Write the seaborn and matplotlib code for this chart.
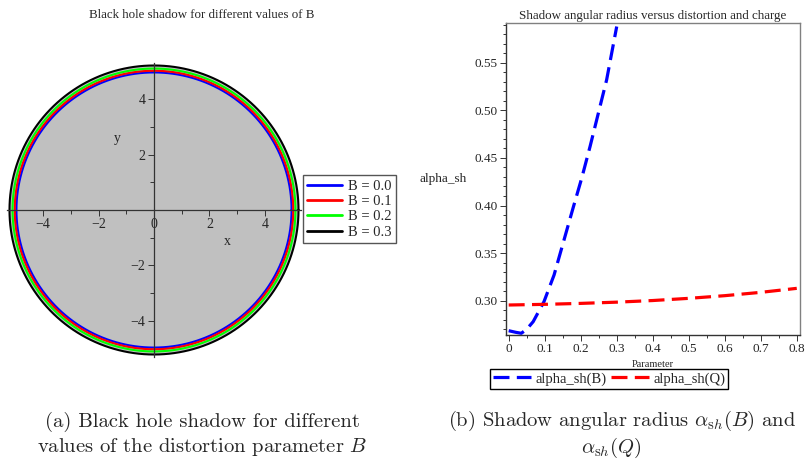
import numpy as np
import pandas as pd
import seaborn as sns
import matplotlib.pyplot as plt
from matplotlib.ticker import MultipleLocator, FixedLocator

# --- veriler ---
# sol panel: golge yaricaplari (B degerlerine gore)
b_labels = ["B = 0.0", "B = 0.1", "B = 0.2", "B = 0.3"]
b_radius = [4.96, 5.02, 5.10, 5.21]
b_colors = ["#0000ff", "#ff0000", "#00ff00", "#000000"]

# sag panel: alpha_sh(B) ve alpha_sh(Q)
param_B = [0.0, 0.02, 0.035, 0.05, 0.068, 0.098, 0.126, 0.156, 0.18,
           0.203, 0.226, 0.249, 0.272, 0.30]
alpha_B = [0.2685, 0.2668, 0.2658, 0.2700, 0.2780, 0.2990, 0.3270, 0.3670,
           0.3990, 0.4290, 0.4620, 0.4970, 0.5320, 0.5880]
param_Q = [0.0, 0.1, 0.2, 0.3, 0.4, 0.5, 0.6, 0.7, 0.8]
alpha_Q = [0.2955, 0.2962, 0.2972, 0.2985, 0.3002, 0.3025, 0.3053, 0.3088, 0.3130]

x_ticks = [0.0, 0.1, 0.2, 0.3, 0.4, 0.5, 0.6, 0.7, 0.8]
x_tick_labels = ["0", "0.1", "0.2", "0.3", "0.4", "0.5", "0.6", "0.7", "0.8"]
y_ticks = [0.30, 0.35, 0.40, 0.45, 0.50, 0.55]
y_tick_labels = ["0.30", "0.35", "0.40", "0.45", "0.50", "0.55"]

sns.set_style("white")
plt.rcParams['font.family'] = ['Liberation Serif', 'DejaVu Serif']
plt.rcParams['mathtext.fontset'] = 'cm'

fig = plt.figure(figsize=(8.06, 4.59), dpi=100)
W, H = 806, 459

def box(x0, y0, x1, y1):
    # piksel -> figur orani
    return [x0 / W, 1 - y1 / H, (x1 - x0) / W, (y1 - y0) / H]

# ---------------- sol panel ----------------
ax1 = fig.add_axes(box(7, 63, 301, 357))
theta = np.linspace(0, 2 * np.pi, 361)
rows = []
for lab, r in zip(b_labels, b_radius):
    for t in theta:
        rows.append((lab, r * np.cos(t), r * np.sin(t)))
circ = pd.DataFrame(rows, columns=["B", "x", "y"])

rmax = max(b_radius)
ax1.fill(rmax * np.cos(theta), rmax * np.sin(theta), color="#c0c0c0", zorder=0.5, lw=0)
sns.lineplot(data=circ, x="x", y="y", hue="B", sort=False, estimator=None,
             palette=dict(zip(b_labels, b_colors)), lw=1.5, ax=ax1)

ax1.set_xlim(-5.3, 5.3)
ax1.set_ylim(-5.3, 5.3)
ax1.set_aspect("equal")
for s in ["top", "right"]:
    ax1.spines[s].set_visible(False)
for s in ["left", "bottom"]:
    ax1.spines[s].set_position("zero")
    ax1.spines[s].set_color("#333333")
    ax1.spines[s].set_linewidth(0.9)
ax1.xaxis.set_major_locator(FixedLocator([-4, -2, 0, 2, 4]))
ax1.yaxis.set_major_locator(FixedLocator([-4, -2, 2, 4]))
ax1.xaxis.set_minor_locator(FixedLocator([-5, -3, -1, 1, 3, 5]))
ax1.yaxis.set_minor_locator(FixedLocator([-5, -3, -1, 1, 3, 5]))
ax1.set_xticklabels(["\u22124", "\u22122", "0", "2", "4"])
ax1.set_yticklabels(["\u22124", "\u22122", "2", "4"])
ax1.tick_params(which="both", direction="out", length=4, width=0.7,
                color="#333333", labelsize=10, pad=2,
                bottom=True, left=True)
ax1.tick_params(which="minor", length=3)
ax1.set_xlabel("")
ax1.set_ylabel("")
ax1.text(0.749, 0.394, "x", transform=ax1.transAxes, fontsize=10,
         ha="center", va="center")
ax1.text(0.374, 0.742, "y", transform=ax1.transAxes, fontsize=10,
         ha="center", va="center")
fig.text(202 / W, 1 - 15 / H, "Black hole shadow for different values of B",
         ha="center", va="center", fontsize=9.3)
leg1 = ax1.legend(loc="center left", bbox_to_anchor=(1.007, 0.503),
                  fontsize=10.5, frameon=True, fancybox=False, framealpha=1,
                  edgecolor="#555555", handlelength=2.4, borderpad=0.3,
                  labelspacing=0.15, handletextpad=0.4, borderaxespad=0)
leg1.get_frame().set_linewidth(1.0)
for ln in leg1.get_lines():
    ln.set_linewidth(2)

# ---------------- sag panel ----------------
ax2 = fig.add_axes(box(505.7, 23, 800, 335))
curves = pd.concat([
    pd.DataFrame({"Parameter": param_B, "alpha_sh": alpha_B, "curve": "alpha_sh(B)"}),
    pd.DataFrame({"Parameter": param_Q, "alpha_sh": alpha_Q, "curve": "alpha_sh(Q)"}),
])
sns.lineplot(data=curves, x="Parameter", y="alpha_sh", hue="curve", style="curve",
             palette={"alpha_sh(B)": "#0000ff", "alpha_sh(Q)": "#ff0000"},
             dashes={"alpha_sh(B)": (5, 2.3), "alpha_sh(Q)": (5, 2.3)},
             lw=2.3, sort=False, estimator=None, ax=ax2)
ax2.set_xlim(-0.0083, 0.809)
ax2.set_ylim(0.264, 0.5917)
ax2.xaxis.set_major_locator(FixedLocator(x_ticks))
ax2.xaxis.set_minor_locator(FixedLocator(np.arange(0.05, 0.8, 0.1)))
ax2.yaxis.set_major_locator(FixedLocator(y_ticks))
ax2.yaxis.set_minor_locator(MultipleLocator(0.01))
ax2.set_xticklabels(x_tick_labels)
ax2.set_yticklabels(y_tick_labels)
ax2.tick_params(which="both", direction="out", length=4, width=0.7,
                color="#333333", labelsize=9.5, pad=2, bottom=True, left=True)
ax2.tick_params(which="minor", length=2.5)
for s in ["left", "bottom"]:
    ax2.spines[s].set_color("#333333")
    ax2.spines[s].set_linewidth(1.0)
for s in ["top", "right"]:
    ax2.spines[s].set_color("#808080")
    ax2.spines[s].set_linewidth(1.0)
ax2.set_title("Shadow angular radius versus distortion and charge",
              fontsize=9.4, pad=3)
ax2.set_ylabel("alpha_sh", rotation=0, fontsize=9.5, ha="center", va="center")
ax2.yaxis.set_label_coords(-0.213, 0.5)
ax2.set_xlabel("Parameter", fontsize=7.5)
ax2.xaxis.set_label_coords(0.5, -0.093)
ax2.xaxis.label.set_va("center")
leg2 = ax2.legend(loc="center", bbox_to_anchor=(0.351, -0.141), ncol=2,
                  fontsize=10.5, frameon=True, fancybox=False, framealpha=1,
                  edgecolor="#000000", handlelength=2.6, borderpad=0.2,
                  columnspacing=0.3, handletextpad=0.3, borderaxespad=0)
leg2.get_frame().set_linewidth(1.0)

# ---------------- alt yazilar ----------------
cap = dict(ha="center", va="center", fontsize=14.8, family="cmr10")
fig.text(202 / W, 1 - 422 / H, "(a) Black hole shadow for different", **cap)
fig.text(202 / W, 1 - 447 / H, "values of the distortion parameter $B$", **cap)
fig.text(622 / W, 1 - 421 / H,
         r"(b) Shadow angular radius $\alpha_{\mathrm{s}h}(B)$ and", **cap)
fig.text(611 / W, 1 - 448 / H, r"$\alpha_{\mathrm{s}h}(Q)$", **cap)

fig.savefig("out.png", dpi=100)
